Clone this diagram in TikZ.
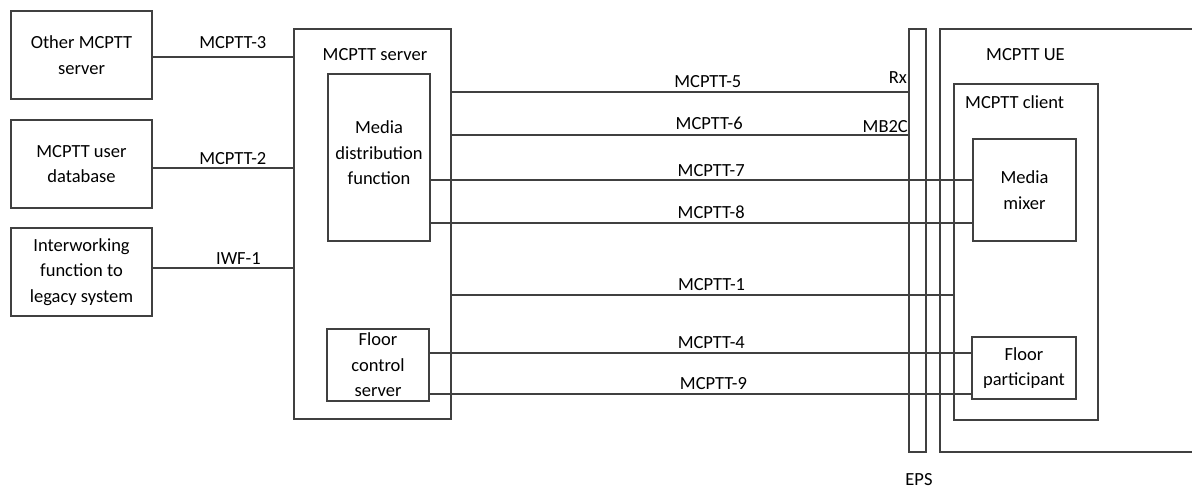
\documentclass[tikz,border=0pt]{standalone}
\usepackage{fontspec}
\setmainfont{Carlito}
\begin{document}
\begin{tikzpicture}[x=1pt,y=-1pt,
  every node/.style={font=\fontsize{18.5}{25.5}\selectfont, text=black},
  box/.style={draw=lc, line width=1.6pt, rectangle, inner sep=0pt, align=center},
  con/.style={draw=lc, line width=1.6pt},
  lab/.style={anchor=base, inner sep=0pt}]
\definecolor{lc}{RGB}{64,64,64}
\useasboundingbox (0,0) rectangle (1192,488);
\clip (0,0) rectangle (1192,488);
% left boxes
\node[box, minimum width=141pt, minimum height=88pt] (oth) at (81.5,55) {Other MCPTT\\server};
\node[box, minimum width=141pt, minimum height=88pt] (udb) at (81.5,164) {MCPTT user\\database};
\node[box, minimum width=141pt, minimum height=88pt] (iwf) at (81.5,272) {Interworking\\function to\\legacy system};
% server
\node[box, minimum width=157pt, minimum height=390pt] (srv) at (372.5,224) {};
\node[lab] (srvt) at (375,60) {MCPTT server};
\node[box, minimum width=102pt, minimum height=167pt] (mdf) at (379,157.5) {};
\node[inner sep=0pt, align=center] (mdft) at (379,153) {Media\\distribution\\function};
\node[box, minimum width=102pt, minimum height=72pt] (fcs) at (378,365) {Floor\\control\\server};
% EPS
\node[box, minimum width=17pt, minimum height=423pt] (eps) at (917.5,240.5) {};
\node[lab] (epst) at (919,485) {EPS};
% UE
\node[box, minimum width=310pt, minimum height=423pt] (ue) at (1095,240.5) {};
\node[lab] (uet) at (1025.5,60) {MCPTT UE};
\node[box, minimum width=144pt, minimum height=336pt] (cli) at (1026,252) {};
\node[lab, anchor=base west] (clit) at (965,108) {MCPTT client};
\node[box, minimum width=103pt, minimum height=102pt] (mix) at (1024.5,190) {Media\\mixer};
\node[box, minimum width=104pt, minimum height=62pt] (fp) at (1024,368) {Floor\\participant};
% left connectors
\draw[con] (oth.east |- 0,57) -- (srv.west |- 0,57) coordinate[pos=0.57] (l3);
\node[lab] at ([yshift=9pt]l3) {MCPTT-3};
\draw[con] (udb.east |- 0,168) -- (srv.west |- 0,168) coordinate[pos=0.57] (l2);
\node[lab] at ([yshift=4pt]l2) {MCPTT-2};
\draw[con] (iwf.east |- 0,268) -- (srv.west |- 0,268) coordinate[pos=0.61] (lw);
\node[lab] at ([yshift=4pt]lw) {IWF-1};
% right connectors
\draw[con] (srv.east |- 0,92) -- (eps.west |- 0,92) coordinate[pos=0.561] (l5);
\node[lab] at ([yshift=5pt]l5) {MCPTT-5};
\draw[con] (srv.east |- 0,135) -- (eps.west |- 0,135) coordinate[pos=0.564] (l6);
\node[lab] at ([yshift=6pt]l6) {MCPTT-6};
\node[lab, anchor=base east] (rx) at (907,83) {Rx};
\node[lab, anchor=base east] (mb) at (908,132) {MB2C};
\draw[con] (mdf.east |- 0,180) -- (mix.west |- 0,180) coordinate[pos=0.518] (l7);
\node[lab] at ([yshift=4pt]l7) {MCPTT-7};
\draw[con] (mdf.east |- 0,223) -- (mix.west |- 0,223) coordinate[pos=0.518] (l8);
\node[lab] at ([yshift=5pt]l8) {MCPTT-8};
\draw[con] (srv.east |- 0,295) -- (cli.west |- 0,295) coordinate[pos=0.518] (l1);
\node[lab] at ([yshift=5pt]l1) {MCPTT-1};
\draw[con] (fcs.east |- 0,353) -- (fp.west |- 0,353) coordinate[pos=0.520] (l4);
\node[lab] at ([yshift=5pt]l4) {MCPTT-4};
\draw[con] (fcs.east |- 0,394) -- (fp.west |- 0,394) coordinate[pos=0.524] (l9);
\node[lab] at ([yshift=5pt]l9) {MCPTT-9};
\end{tikzpicture}
\end{document}
